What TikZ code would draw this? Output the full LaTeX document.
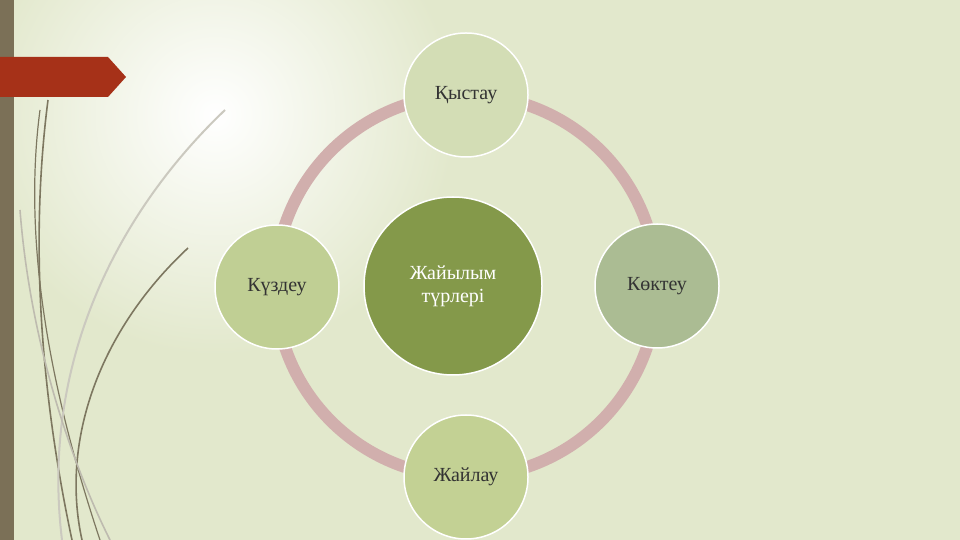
\documentclass[tikz,border=0pt]{standalone}
\usepackage{fontspec}
\setmainfont{Liberation Serif}
\usetikzlibrary{positioning}
\definecolor{bgcol}{HTML}{E2E8CC}
\definecolor{ringcol}{HTML}{D1AFAD}
\definecolor{midcol}{HTML}{84994A}
\definecolor{topcol}{HTML}{D3DDB5}
\definecolor{rightcol}{HTML}{ABBC93}
\definecolor{botcol}{HTML}{C3D194}
\definecolor{leftcol}{HTML}{C0CF94}
\definecolor{barcol}{HTML}{7B7057}
\definecolor{tabcol}{HTML}{A63118}
\definecolor{stemcol}{HTML}{7D7760}
\begin{document}
\begin{tikzpicture}[x=1pt,y=1pt,
	season/.style={circle, draw=white, line width=1.5pt, minimum size=124pt,
		inner sep=0pt, text=black!80, font=\fontsize{20}{23}\selectfont},
	hub/.style={circle, draw=white, line width=1.5pt, minimum size=178pt,
		fill=midcol, text=white, align=center, font=\fontsize{20}{23}\selectfont},
	stem/.style={draw=stemcol, line width=1.6pt},
	]
	\useasboundingbox (0,0) rectangle (960,540);
	\clip (0,0) rectangle (960,540);
	% background
	\fill[bgcol] (0,0) rectangle (960,540);
	\shade[inner color=white, outer color=bgcol] (215,425) circle (240);
	\fill[barcol] (0,0) rectangle (14,540);
	\fill[tabcol] (0,443) -- (108,443) -- (126,463) -- (108,483) -- (0,483) -- cycle;
	% stems
	\draw[stem] (48,440) .. controls (30,300) and (40,150) .. (72,0);
	\draw[stem, line width=1.2pt] (40,430) .. controls (20,280) and (60,120) .. (100,0);
	\draw[stem, draw=stemcol!40, line width=2pt] (225,430) .. controls (120,330) and (40,180) .. (62,0);
	\draw[stem] (188,292) .. controls (100,210) and (60,100) .. (82,0);
	\draw[stem, draw=stemcol!50] (20,330) .. controls (30,200) and (70,80) .. (110,0);
	% ring
	\draw[ringcol, line width=12pt] (466,254) circle (191);
	% nodes
	\node[hub] (mid) at (453,254) {Жайылым\\түрлері};
	\node[season, fill=topcol] (kys) at (466,445) {Қыстау};
	\node[season, fill=rightcol] (kok) at (657,254) {Көктеу};
	\node[season, fill=botcol] (zhai) at (466,63) {Жайлау};
	\node[season, fill=leftcol] (kuz) at (277,253) {Күздеу};
\end{tikzpicture}
\end{document}
